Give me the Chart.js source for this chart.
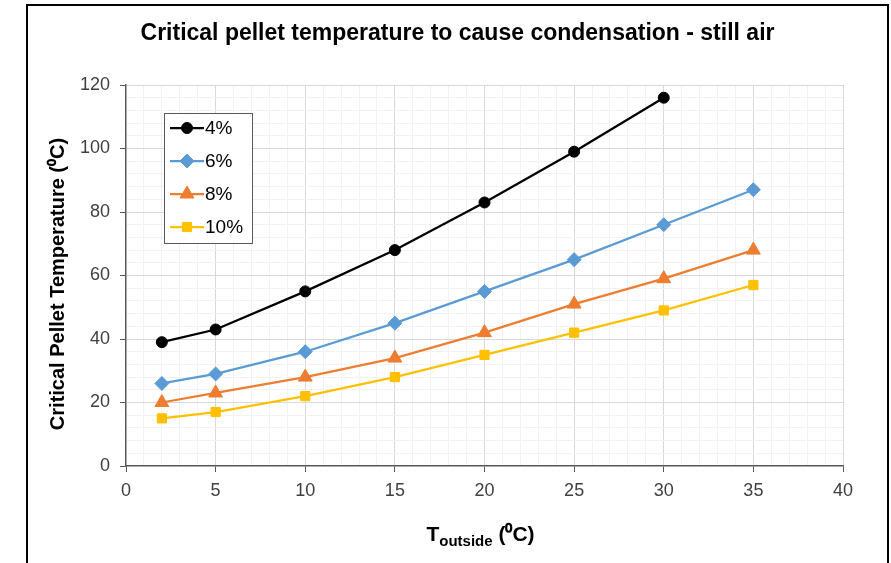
<!DOCTYPE html>
<html>
<head>
<meta charset="utf-8">
<script src="https://cdn.jsdelivr.net/npm/chart.js@4"></script>
<style>
  body { margin: 0; background: #fff; overflow: hidden; }
  #box { position: absolute; left: 26px; top: 4px; width: 859px; height: 570px; border: 2px solid #000; background: #fff; }
  #pelletChart { display: block; }
</style>
</head>
<body>
<div id="box"><canvas id="pelletChart" width="859" height="563"></canvas></div>
<script>
// outside temperature (x) for each series
var tOutside = [2, 5, 10, 15, 20, 25, 30, 35];
var series4 = [39, 43, 55, 68, 83, 99, 116];
var series6 = [26, 29, 36, 45, 55, 65, 76, 87];
var series8 = [20, 23, 28, 34, 42, 51, 59, 68];
var series10 = [15, 17, 22, 28, 35, 42, 49, 57];
var seriesNames = ['4%', '6%', '8%', '10%'];
var xTicks = [0, 5, 10, 15, 20, 25, 30, 35, 40];
var yTicks = [0, 20, 40, 60, 80, 100, 120];

function toPoints(vals) {
	return vals.map(function (v, i) { return { x: tOutside[i], y: v }; });
}

var FONT = "'Liberation Sans', Arial, sans-serif";

// legend box drawn inside the plot area
var insideLegend = {
	id: 'insideLegend',
	afterDraw: function (chart) {
		var ctx = chart.ctx;
		var a = chart.chartArea;
		var x0 = a.left + 38, y0 = a.top + 28;
		ctx.save();
		ctx.fillStyle = '#fff';
		ctx.fillRect(x0, y0, 88, 130);
		ctx.strokeStyle = '#595959';
		ctx.lineWidth = 1;
		ctx.strokeRect(x0 + 0.5, y0 + 0.5, 88, 130);
		chart.data.datasets.forEach(function (ds, i) {
			var cy = y0 + 15 + i * 33;
			ctx.strokeStyle = ds.borderColor;
			ctx.lineWidth = 2.25;
			ctx.beginPath();
			ctx.moveTo(x0 + 6, cy);
			ctx.lineTo(x0 + 40, cy);
			ctx.stroke();
			ctx.fillStyle = ds.backgroundColor;
			ctx.strokeStyle = ds.borderColor;
			ctx.lineWidth = 1;
			Chart.helpers.drawPoint(ctx, { pointStyle: ds.pointStyle, radius: ds.pointRadius, borderWidth: 1 }, x0 + 23, cy);
			ctx.fillStyle = '#000';
			ctx.font = '19px ' + FONT;
			ctx.textBaseline = 'middle';
			ctx.textAlign = 'left';
			ctx.fillText(ds.label, x0 + 41, cy + 1);
		});
		ctx.restore();
	}
};

// chart title, y axis title and x axis title with subscript
var titles = {
	id: 'titles',
	afterDraw: function (chart) {
		var ctx = chart.ctx;
		var a = chart.chartArea;
		ctx.save();
		ctx.fillStyle = '#000';
		ctx.textBaseline = 'middle';
		ctx.textAlign = 'center';
		ctx.font = 'bold 23px ' + FONT;
		ctx.fillText('Critical pellet temperature to cause condensation - still air', chart.width / 2, 28);

		ctx.save();
		ctx.translate(30, 278);
		ctx.rotate(-Math.PI / 2);
		ctx.font = 'bold 20px ' + FONT;
		ctx.fillText('Critical Pellet Temperature (\u2070C)', 0, 0);
		ctx.restore();

		var big = 'bold 21px ' + FONT, small = 'bold 15px ' + FONT;
		ctx.font = big; var w1 = ctx.measureText('T').width; var w3 = ctx.measureText(' (\u2070C)').width;
		ctx.font = small; var w2 = ctx.measureText('outside').width;
		var x = (a.left + a.right) / 2 - (w1 + w2 + w3) / 2 - 4;
		var y = 529;
		ctx.textAlign = 'left';
		ctx.font = big; ctx.fillText('T', x, y);
		ctx.font = small; ctx.fillText('outside', x + w1, y + 7);
		ctx.font = big; ctx.fillText(' (\u2070C)', x + w1 + w2, y);
		ctx.restore();
	}
};

var ctx = document.getElementById('pelletChart').getContext('2d');

var pelletChart = new Chart(ctx, {
	type: 'line',
	data: {
		datasets: [{
			label: seriesNames[0],
			data: toPoints(series4),
			borderColor: '#000000',
			backgroundColor: '#000000',
			pointStyle: 'circle',
			pointRadius: 5.5
		}, {
			label: seriesNames[1],
			data: toPoints(series6),
			borderColor: '#5b9bd5',
			backgroundColor: '#5b9bd5',
			pointStyle: 'rectRot',
			pointRadius: 7
		}, {
			label: seriesNames[2],
			data: toPoints(series8),
			borderColor: '#ed7d31',
			backgroundColor: '#ed7d31',
			pointStyle: 'triangle',
			pointRadius: 8
		}, {
			label: seriesNames[3],
			data: toPoints(series10),
			borderColor: '#ffc000',
			backgroundColor: '#ffc000',
			pointStyle: 'rect',
			pointRadius: 6.5
		}]
	},
	options: {
		responsive: false,
		animation: false,
		layout: { padding: { top: 79, left: 0, right: 44, bottom: 63 } },
		elements: {
			line: { borderWidth: 2.25, tension: 0 },
			point: { borderWidth: 1, hoverRadius: 6 }
		},
		scales: {
			x: {
				type: 'linear',
				min: 0,
				max: 40,
				afterFit: function (s) { s.height = 40; },
				afterBuildTicks: function (s) {
					var t = [];
					for (var v = s.min; v <= s.max; v++) t.push({ value: v });
					s.ticks = t;
				},
				ticks: {
					autoSkip: false,
					maxRotation: 0,
					padding: 8,
					color: '#404040',
					font: { size: 18, family: FONT },
					callback: function (v) { return xTicks.indexOf(v) >= 0 ? String(v) : ''; }
				},
				grid: {
					tickLength: 6,
					color: function (c) {
						if (c.tick && c.tick.value === 0) return 'rgba(0,0,0,0)';
						return xTicks.indexOf(c.tick && c.tick.value) >= 0 ? '#d9d9d9' : '#f2f2f2';
					},
					tickColor: function (c) {
						return xTicks.indexOf(c.tick && c.tick.value) >= 0 ? '#595959' : 'rgba(0,0,0,0)';
					}
				},
				border: { color: '#595959', width: 1.5 }
			},
			y: {
				min: 0,
				max: 120,
				afterFit: function (s) { s.width = 98; },
				afterBuildTicks: function (s) {
					var t = [];
					for (var v = s.min; v <= s.max; v += 4) t.push({ value: v });
					s.ticks = t;
				},
				ticks: {
					autoSkip: false,
					padding: 10,
					color: '#404040',
					font: { size: 18, family: FONT },
					callback: function (v) { return yTicks.indexOf(v) >= 0 ? String(v) : ''; }
				},
				grid: {
					tickLength: 6,
					color: function (c) {
						if (c.tick && c.tick.value === 0) return 'rgba(0,0,0,0)';
						return yTicks.indexOf(c.tick && c.tick.value) >= 0 ? '#d9d9d9' : '#f2f2f2';
					},
					tickColor: function (c) {
						return yTicks.indexOf(c.tick && c.tick.value) >= 0 ? '#595959' : 'rgba(0,0,0,0)';
					}
				},
				border: { color: '#595959', width: 1.5 }
			}
		},
		plugins: {
			legend: { display: false },
			tooltip: { enabled: false }
		}
	},
	plugins: [insideLegend, titles]
});
</script>
</body>
</html>
